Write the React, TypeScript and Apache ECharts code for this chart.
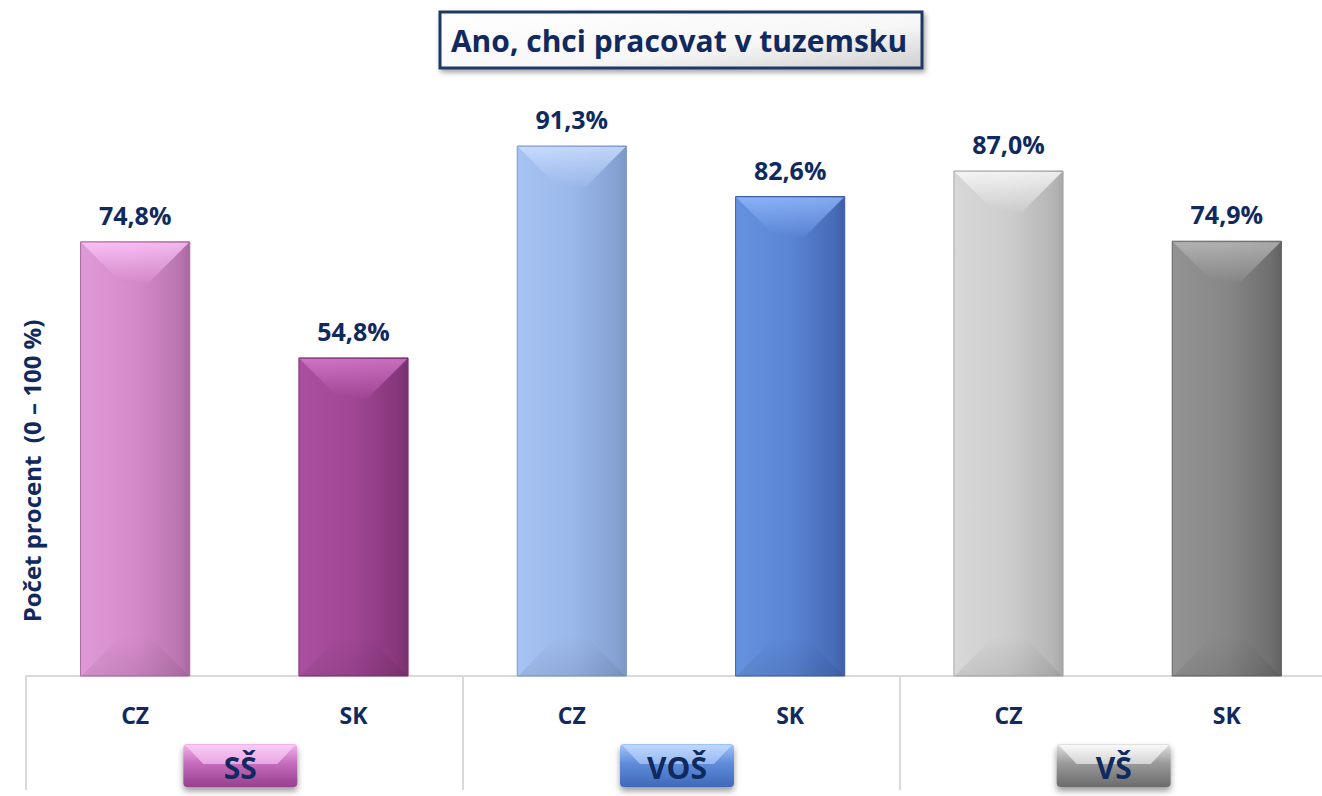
import React, { useEffect, useRef } from 'react';
import * as echarts from 'echarts';

const categories = ['CZ', 'SK', 'CZ', 'SK', 'CZ', 'SK'];
const groups = ['SŠ', 'VOŠ', 'VŠ'];
const values = [74.8, 54.8, 91.3, 82.6, 87.0, 74.9];
const titleText = 'Ano, chci pracovat v tuzemsku';
const yAxisTitle = 'Počet procent  (0 – 100 %)';

const NAVY = '#10295e';
const FONT = '"Open Sans", Lato, sans-serif';

// [left light, mid, right dark, top highlight, edge]
const barColors = [
  ['#e09ad7', '#d38ac9', '#bb76b1', '#ffc8fc', '#a8679f'],
  ['#ab50a0', '#a04694', '#87377c', '#d77bcd', '#7a3070'],
  ['#a6c3f4', '#9bb8ea', '#86a2d4', '#cde0ff', '#7d97c4'],
  ['#6592de', '#5a85d4', '#476cb8', '#93b9ff', '#3e5fa3'],
  ['#d8d8d8', '#cdcdcd', '#b6b6b6', '#fbfbfb', '#a8a8a8'],
  ['#939393', '#878787', '#6f6f6f', '#b9b9b9', '#626262'],
];
const buttonColors = [
  ['#f2b5ec', '#c56cbd', '#97408e', '#fbd2f7'],
  ['#a3c4f7', '#5f8ddb', '#3f69b8', '#c6dcff'],
  ['#e2e2e2', '#9a9a9a', '#6b6b6b', '#ffffff'],
];

const fmt = (v: number) => v.toFixed(1).replace('.', ',') + '%';

export default function App() {
  const ref = useRef<HTMLDivElement>(null);
  useEffect(() => {
    if (!ref.current) return;
    const chart = echarts.init(ref.current, null, { renderer: 'svg' });
    const option: any = {
      animation: false,
      grid: { left: 26, right: -14, top: 95.5, bottom: 120, outerBoundsMode: 'none', containLabel: false },
      xAxis: [
        {
          type: 'category',
          data: categories,
          axisLine: { show: true, lineStyle: { color: '#d9d9d9', width: 2 } },
          axisTick: {
            show: true,
            interval: (i: number) => i % 2 === 0,
            length: 114,
            lineStyle: { color: '#d9d9d9', width: 2 },
          },
          axisLabel: {
            color: NAVY,
            fontFamily: FONT,
            fontWeight: 'bold',
            fontSize: 23,
            margin: 27,
          },
        },
        {
          type: 'category',
          data: groups,
          position: 'bottom',
          axisLine: { show: false },
          axisTick: { show: false },
          axisLabel: { show: false },
        },
      ],
      yAxis: {
        type: 'value',
        min: 0,
        max: 100,
        show: false,
        splitLine: { show: false },
      },
      graphic: [
        {
          type: 'rect',
          shape: { x: 440, y: 12, width: 482, height: 56 },
          style: {
            fill: new echarts.graphic.LinearGradient(0, 0, 1, 1, [
              { offset: 0, color: '#ffffff' },
              { offset: 0.6, color: '#f7f7f7' },
              { offset: 1, color: '#cfcfcf' },
            ]),
            stroke: '#1f3864',
            lineWidth: 3,
            shadowBlur: 5,
            shadowOffsetX: 2,
            shadowOffsetY: 3,
            shadowColor: 'rgba(0,0,0,0.35)',
          },
        },
        {
          type: 'text',
          x: 679,
          y: 40,
          style: {
            text: titleText,
            align: 'center',
            verticalAlign: 'middle',
            fill: NAVY,
            font: `bold 30px ${FONT}`,
          },
        },
        {
          type: 'text',
          x: 31,
          y: 471,
          rotation: Math.PI / 2,
          style: {
            text: yAxisTitle,
            align: 'center',
            verticalAlign: 'middle',
            fill: NAVY,
            font: `bold 24px ${FONT}`,
          },
        },
      ],
      series: [
        {
          type: 'custom',
          xAxisIndex: 0,
          yAxisIndex: 0,
          data: values.map((v, i) => [i, v]),
          renderItem: (params: any, api: any) => {
            const idx = api.value(0);
            const val = api.value(1);
            const top = api.coord([idx, val]);
            const base = api.coord([idx, 0]);
            const w = api.size([1, 0])[0] * 0.5;
            const cx = top[0];
            const x0 = cx - w / 2;
            const x1 = cx + w / 2;
            const ty = top[1];
            const by = base[1];
            const h = by - ty;
            const b = Math.min(w * 0.37, h / 2);
            const c = barColors[params.dataIndex];
            return {
              type: 'group',
              children: [
                {
                  type: 'rect',
                  shape: { x: x0, y: ty, width: w, height: h },
                  style: {
                    fill: new echarts.graphic.LinearGradient(0, 0, 1, 0, [
                      { offset: 0, color: c[0] },
                      { offset: 0.5, color: c[1] },
                      { offset: 0.9, color: c[2] },
                      { offset: 1, color: c[4] },
                    ]),
                    stroke: c[4],
                    lineWidth: 1,
                  },
                },
                {
                  type: 'polygon',
                  shape: {
                    points: [
                      [x0 + 1, ty + 1],
                      [x1 - 1, ty + 1],
                      [x1 - b, ty + b],
                      [x0 + b, ty + b],
                    ],
                  },
                  style: {
                    fill: new echarts.graphic.LinearGradient(0, 0, 0, 1, [
                      { offset: 0, color: c[3] },
                      { offset: 1, color: c[1] },
                    ]),
                    opacity: 0.8,
                  },
                },
                {
                  type: 'polygon',
                  shape: {
                    points: [
                      [x0 + 1, by],
                      [x1 - 1, by],
                      [x1 - b, by - b],
                      [x0 + b, by - b],
                    ],
                  },
                  style: {
                    fill: new echarts.graphic.LinearGradient(0, 0, 0, 1, [
                      { offset: 0, color: 'rgba(0,0,0,0)' },
                      { offset: 1, color: 'rgba(0,0,0,0.08)' },
                    ]),
                  },
                },
                {
                  type: 'text',
                  x: cx,
                  y: ty - 27,
                  style: {
                    text: fmt(val),
                    align: 'center',
                    verticalAlign: 'middle',
                    fill: NAVY,
                    font: `bold 25px ${FONT}`,
                  },
                },
              ],
            };
          },
        },
        {
          type: 'custom',
          xAxisIndex: 1,
          yAxisIndex: 0,
          clip: false,
          data: groups.map((g, i) => [i, 0]),
          renderItem: (params: any, api: any) => {
            const i = params.dataIndex;
            const p = api.coord([api.value(0), 0]);
            const bw = 114;
            const bh = 43;
            const cx = p[0] - 4;
            const bx = cx - bw / 2;
            const byy = p[1] + 68;
            const b = 20;
            const c = buttonColors[i];
            return {
              type: 'group',
              children: [
                {
                  type: 'rect',
                  shape: { x: bx, y: byy, width: bw, height: bh, r: 4 },
                  style: {
                    fill: new echarts.graphic.LinearGradient(0, 0, 0, 1, [
                      { offset: 0, color: c[0] },
                      { offset: 0.45, color: c[1] },
                      { offset: 1, color: c[2] },
                    ]),
                    shadowBlur: 6,
                    shadowOffsetY: 4,
                    shadowColor: 'rgba(0,0,0,0.4)',
                  },
                },
                {
                  type: 'polygon',
                  shape: {
                    points: [
                      [bx + 2, byy + 1],
                      [bx + bw - 2, byy + 1],
                      [bx + bw - b, byy + b],
                      [bx + b, byy + b],
                    ],
                  },
                  style: {
                    fill: new echarts.graphic.LinearGradient(0, 0, 0, 1, [
                      { offset: 0, color: c[3] },
                      { offset: 1, color: c[0] },
                    ]),
                    opacity: 0.8,
                  },
                },
                {
                  type: 'text',
                  x: cx,
                  y: byy + bh / 2 + 2,
                  style: {
                    text: groups[i],
                    align: 'center',
                    verticalAlign: 'middle',
                    fill: NAVY,
                    font: `bold 30px ${FONT}`,
                  },
                },
              ],
            };
          },
        },
      ],
    };
    chart.setOption(option);
    return () => chart.dispose();
  }, []);
  return (
    <div
      ref={ref}
      style={{ position: 'fixed', left: 0, top: 0, width: '1322px', height: '796px', background: '#ffffff' }}
    />
  );
}
